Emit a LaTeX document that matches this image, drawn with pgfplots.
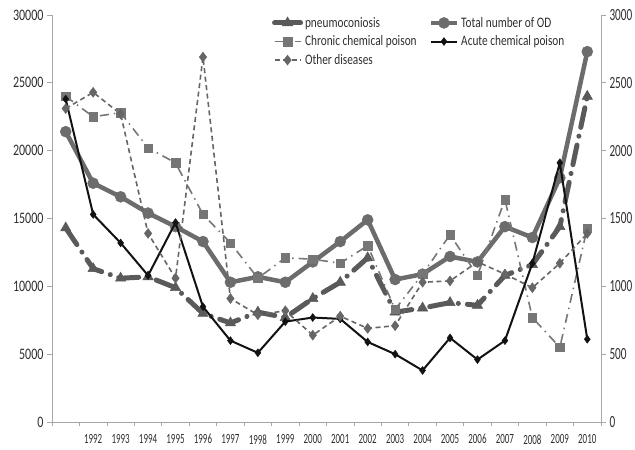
\documentclass[border=0pt]{standalone}
\usepackage{pgfplots}
\pgfplotsset{compat=1.18}
\usepackage{fontspec}
\setmainfont{Carlito}
\newfontfamily\leftfont[FakeStretch=0.75]{Carlito}
\newfontfamily\botfont[FakeStretch=0.64]{Carlito}
\newfontfamily\rightfont[FakeStretch=0.66]{Carlito}
\newfontfamily\legfont[FakeStretch=0.78]{Carlito}
\definecolor{axisgray}{HTML}{A6A6A6}
\definecolor{labgray}{HTML}{2E2E2E}
\definecolor{totgray}{HTML}{6C6C6C}
\definecolor{pneugray}{HTML}{5A5A5A}
\definecolor{chrgray}{HTML}{767676}
\definecolor{othgray}{HTML}{666666}
\definecolor{acublack}{HTML}{121212}

% x index 0 = 1991 (unlabelled), 1..19 = 1992..2010
\pgfplotstableread{
x pneumo total
0 14300 21400
1 11300 17600
2 10600 16600
3 10700 15400
4 9900 14400
5 8000 13300
6 7300 10300
7 8100 10700
8 7700 10300
9 9100 11800
10 10300 13300
11 12100 14900
12 8100 10500
13 8400 10900
14 8800 12200
15 8600 11800
16 10800 14400
17 11600 13600
18 14400 18000
19 24000 27300
}\lefttab
\pgfplotstableread{
x chronic acute other
0 2400 2380 2310
1 2250 1530 2430
2 2280 1320 2270
3 2020 1080 1390
4 1910 1470 1060
5 1530 850 2690
6 1320 600 910
7 1060 510 790
8 1210 740 820
9 1200 770 640
10 1170 760 780
11 1300 590 690
12 830 500 710
13 1090 380 1030
14 1380 620 1040
15 1080 460 1180
16 1640 600 1090
17 770 1170 990
18 550 1910 1170
19 1430 610 1390
}\righttab

\pgfplotsset{
  common/.style={
    width=549pt, height=407pt, scale only axis,
    xmin=-0.5, xmax=19.5, ymin=0,
    tick align=outside,
    axis line style={axisgray, line width=0.8pt},
    tick style={axisgray, line width=0.8pt},
    major tick length=5pt, minor tick length=4pt,
    scaled y ticks=false,
    /pgf/number format/1000 sep={},
    /pgf/number format/assume math mode=true,
    legend image code/.code={
      \draw[mark repeat=2,mark phase=2,##1] plot coordinates {(0pt,0pt) (13pt,0pt) (26pt,0pt)};
    },
  },
  pneustyle/.style={pneugray, line width=5pt, line cap=round, dash pattern=on 20pt off 9pt on 0.1pt off 9pt, mark=triangle*, mark size=6pt, mark options={solid, fill=pneugray, draw=pneugray, line width=0.5pt}},
  totstyle/.style={totgray, line width=4.5pt, mark=*, mark size=5.5pt, mark options={solid, fill=totgray, draw=totgray, line width=0.5pt}},
  chrstyle/.style={chrgray, line width=1.6pt, dash pattern=on 9pt off 5pt on 1.5pt off 5pt, mark=square*, mark size=4.2pt, mark options={solid, fill=chrgray, draw=chrgray, line width=0.4pt}},
  acustyle/.style={acublack, line width=2pt, mark=diamond*, mark size=4pt, mark options={solid, fill=acublack, draw=acublack, line width=0.4pt}},
  othstyle/.style={othgray, line width=1.6pt, dash pattern=on 5pt off 3.5pt, mark=diamond*, mark size=5pt, mark options={solid, fill=othgray, draw=othgray, line width=0.4pt}},
}

\begin{document}
\begin{tikzpicture}
\begin{axis}[common, name=ax,
  ymax=30000,
  axis y line*=left, axis x line*=bottom,
  ytick={0,5000,10000,15000,20000,25000,30000},
  xtick={1,...,19},
  xticklabels={1992,1993,1994,1995,1996,1997,1998,1999,2000,2001,2002,2003,2004,2005,2006,2007,2008,2009,2010},
  minor xtick={-0.5,0.5,...,19.5},
  major x tick style={draw=none},
  yticklabel style={font=\leftfont\fontsize{16}{16}\selectfont, text=labgray},
  xticklabel style={font=\botfont\fontsize{14}{14}\selectfont, text=labgray, yshift=-4pt},
]
\addplot[pneustyle] table[x=x, y=pneumo] {\lefttab};
\addplot[totstyle] table[x=x, y=total] {\lefttab};
\end{axis}
\begin{axis}[common,
  ymax=3000,
  axis y line*=right, axis x line=none,
  xtick=\empty,
  ytick={0,500,1000,1500,2000,2500,3000},
  yticklabel style={font=\rightfont\fontsize{17}{17}\selectfont, text=labgray},
  legend columns=2,
  legend cell align=left,
  legend style={draw=none, fill=none, at={(0.395,1.005)}, anchor=north west,
    font=\legfont\fontsize{14.5}{15}\selectfont, text=labgray,
    /tikz/every even column/.append style={column sep=10pt},
    row sep=3pt},
]
\addlegendimage{pneustyle, dash pattern=}
\addlegendentry{pneumoconiosis}
\addlegendimage{totstyle}
\addlegendentry{Total number of OD}
\addplot[chrstyle] table[x=x, y=chronic] {\righttab};
\addlegendentry{Chronic chemical poison}
\addplot[acustyle] table[x=x, y=acute] {\righttab};
\addlegendentry{Acute chemical poison}
\addplot[othstyle] table[x=x, y=other] {\righttab};
\addlegendentry{Other diseases}
\end{axis}
\pgfresetboundingbox
\path ([xshift=-52pt,yshift=-28pt]ax.south west) rectangle ([xshift=34pt,yshift=15pt]ax.north east);
\end{tikzpicture}
\end{document}
